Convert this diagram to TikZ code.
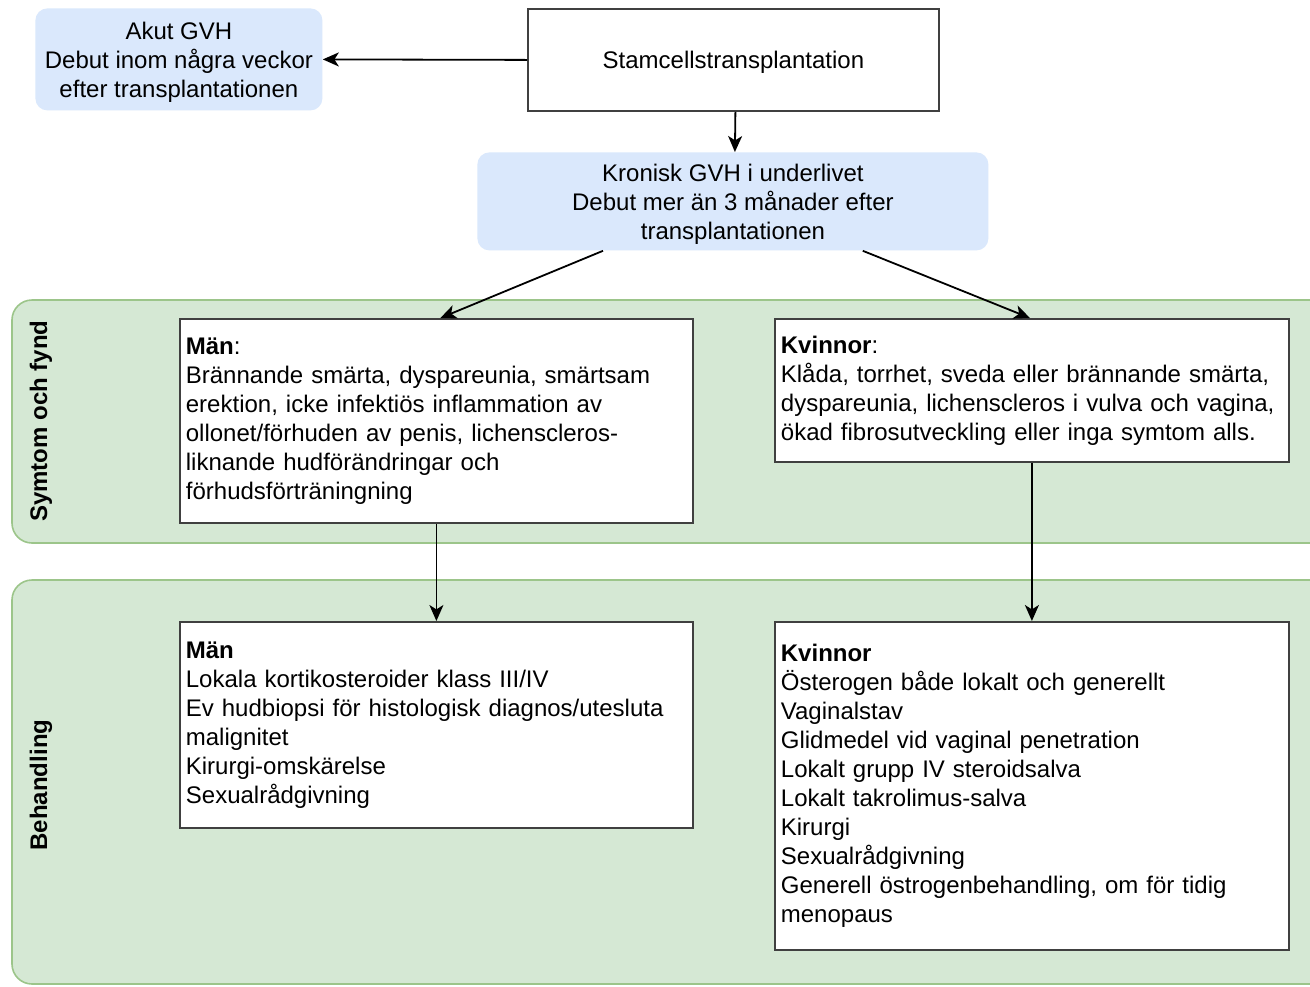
\documentclass[tikz,border=0pt]{standalone}
\usepackage{fontspec}
\setmainfont{Liberation Sans}
\usetikzlibrary{arrows.meta,calc}
\definecolor{bluefill}{HTML}{DAE8FC}
\definecolor{greenfill}{HTML}{D5E8D4}
\definecolor{greenline}{HTML}{9CC58A}
\definecolor{boxline}{HTML}{404040}

\begin{document}
\begin{tikzpicture}[x=0.5pt,y=-0.5pt,
  every node/.style={font=\fontsize{12}{14.5}\selectfont},
  bluebox/.style={fill=bluefill, rounded corners=6pt, inner sep=0pt, anchor=north west},
  bluetext/.style={align=center, inner sep=0pt},
  whitebox/.style={draw=boxline, line width=0.9pt, fill=white, inner sep=0pt, anchor=north west},
  textbox/.style={whitebox, inner xsep=3pt, align=left},
  lane/.style={fill=greenfill, draw=greenline, line width=0.8pt, rounded corners=10pt},
  lanelabel/.style={rotate=90, font=\bfseries\fontsize{12}{14.5}\selectfont},
  arr/.style={-{Stealth[length=8pt,width=7pt,inset=2.2pt]}, line width=0.9pt}
]
\fill[white] (0,0) rectangle (1310,986);
\useasboundingbox (0,0) rectangle (1310,986);

% swimlanes, open to the right
\draw[lane] (1330,300) -- (12,300) -- (12,543) -- (1330,543);
\draw[lane] (1330,580) -- (12,580) -- (12,984) -- (1330,984);
\node[lanelabel] (lab1) at (41,421) {Symtom och fynd};
\node[lanelabel] (lab2) at (41,785) {Behandling};

% top row
\node[bluebox, minimum width=143.5pt, minimum height=51pt] (akut) at (35,8) {};
\node[bluetext] (akuttext) at ([yshift=-1.5pt]akut.center)
  {Akut GVH\\Debut inom några veckor\\efter transplantationen};
\node[whitebox, minimum width=205.5pt, minimum height=51pt] (stam) at (527,8) {};
\node[bluetext] (stamtext) at ([yshift=-1pt]stam.center) {Stamcellstransplantation};
\node[bluebox, minimum width=255.5pt, minimum height=49pt] (kron) at (477,152) {};
\node[bluetext] (krontext) at ([yshift=-1.5pt]kron.center)
  {Kronisk GVH i underlivet\\Debut mer än 3 månader efter\\transplantationen};

% symptoms
\node[textbox, text width=250.5pt, minimum height=102pt] (men1) at (179,318)
  {\textbf{Män}:\\
   Brännande smärta, dyspareunia, smärtsam\\
   erektion, icke infektiös inflammation av\\
   ollonet/förhuden av penis, lichenscleros-\\
   liknande hudförändringar och\\
   förhudsförträningning};
\node[textbox, text width=251pt, minimum height=71.5pt] (wom1) at (774,318)
  {\textbf{Kvinnor}:\\
   Klåda, torrhet, sveda eller brännande smärta,\\
   dyspareunia, lichenscleros i vulva och vagina,\\
   ökad fibrosutveckling eller inga symtom alls.};

% treatment
\node[textbox, text width=250.5pt, minimum height=103pt] (men2) at (179,621)
  {\textbf{Män}\\
   Lokala kortikosteroider klass III/IV\\
   Ev hudbiopsi för histologisk diagnos/utesluta\\
   malignitet\\
   Kirurgi-omskärelse\\
   Sexualrådgivning};
\node[textbox, text width=251pt, minimum height=164pt] (wom2) at (774,621)
  {\textbf{Kvinnor}\\
   Österogen både lokalt och generellt\\
   Vaginalstav\\
   Glidmedel vid vaginal penetration\\
   Lokalt grupp IV steroidsalva\\
   Lokalt takrolimus-salva\\
   Kirurgi\\
   Sexualrådgivning\\
   Generell östrogenbehandling, om för tidig\\
   menopaus};

% connectors
\draw[arr] (stam.west) -- (akut.east);
\draw[arr] ([xshift=1pt]stam.south) -- ([xshift=1pt]kron.north);
\draw[arr] ([xshift=63pt]kron.south west) -- ([xshift=2pt]men1.north);
\draw[arr] ([xshift=-63pt]kron.south east) -- ([xshift=-1pt]wom1.north);
\draw[arr] (men1.south) -- (men2.north);
\draw[arr] (wom1.south) -- (wom2.north);
\end{tikzpicture}
\end{document}
